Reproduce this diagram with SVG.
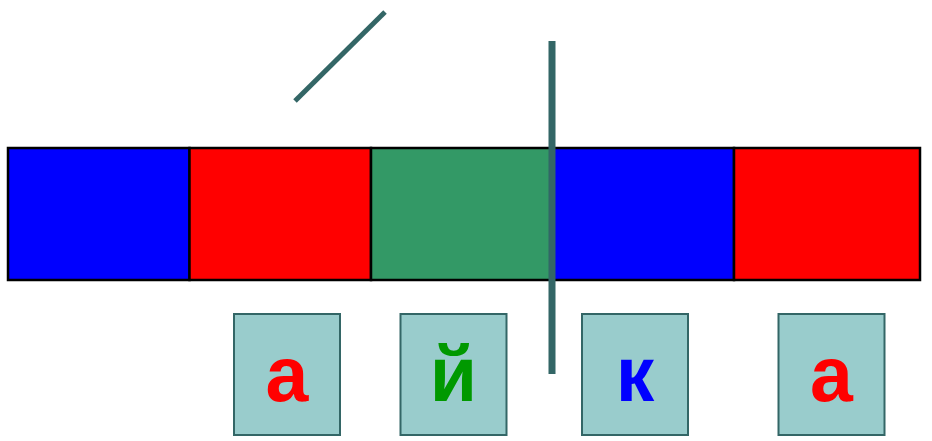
<svg xmlns="http://www.w3.org/2000/svg" width="932" height="441" viewBox="0 0 932 441">
<style>
.seg{stroke:#000;stroke-width:2.5}
.card{fill:#99CCCC;stroke:#336666;stroke-width:2}
.lt{font-family:"Liberation Sans",Arial,sans-serif;font-weight:bold;font-size:77px;text-anchor:middle}
.ln{stroke:#336666;fill:none}
</style>
<rect width="932" height="441" fill="#fff"/>
<g id="bar">
<rect class="seg" x="8" y="148" width="181.5" height="132" fill="#0000FF"/>
<rect class="seg" x="189.5" y="148" width="181.5" height="132" fill="#FF0000"/>
<rect class="seg" x="371" y="148" width="181.5" height="132" fill="#339966"/>
<rect class="seg" x="552.5" y="148" width="181.5" height="132" fill="#0000FF"/>
<rect class="seg" x="734" y="148" width="186" height="132" fill="#FF0000"/>
</g>
<g id="connectors">
<line class="ln" x1="295" y1="101" x2="385" y2="12" stroke-width="5"/>
<line class="ln" x1="552" y1="41" x2="552" y2="374" stroke-width="7"/>
</g>
<g id="card1"><rect class="card" x="234" y="314" width="106" height="121"/><text class="lt" x="287" y="401" fill="#FF0000">а</text></g>
<g id="card2"><rect class="card" x="400.5" y="314" width="106" height="121"/><text class="lt" x="453.5" y="401" fill="#009900">й</text></g>
<g id="card3"><rect class="card" x="582" y="314" width="106" height="121"/><text class="lt" x="635" y="401" fill="#0000FF">к</text></g>
<g id="card4"><rect class="card" x="778.5" y="314" width="106" height="121"/><text class="lt" x="831.5" y="401" fill="#FF0000">а</text></g>
</svg>
